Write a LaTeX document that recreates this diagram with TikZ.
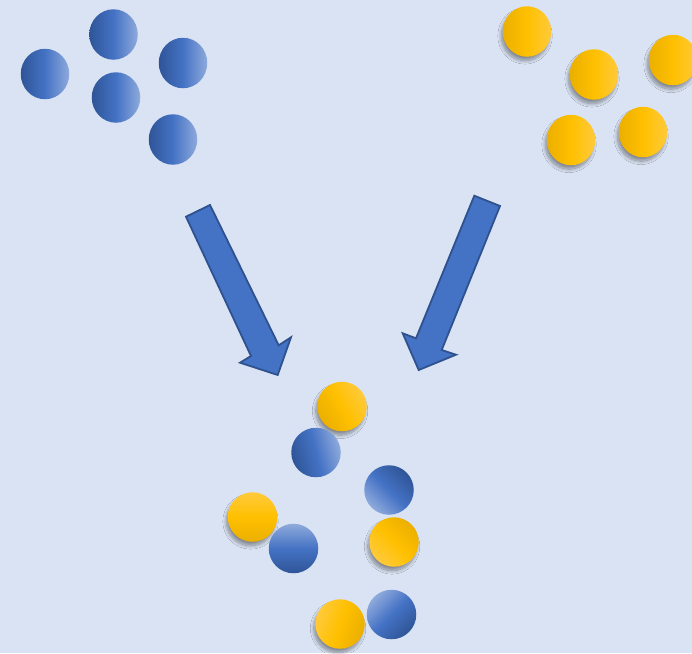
\documentclass[tikz,border=0pt]{standalone}
\usetikzlibrary{shapes.geometric,shadows.blur}
\definecolor{bg}{HTML}{DAE3F3}
\definecolor{bdark}{HTML}{2F5597}
\definecolor{bmid}{HTML}{4472C4}
\definecolor{blight}{HTML}{8FAADC}
\definecolor{ydark}{HTML}{EBAF00}
\definecolor{ymid}{HTML}{FFC000}
\definecolor{ylight}{HTML}{FFCA3C}
\definecolor{aline}{HTML}{2F528F}
\tikzset{
  ball/.style={circle, inner sep=0pt, minimum size=49.5pt, draw=none},
  topball/.style={ellipse, inner sep=0pt, minimum width=48.5pt, minimum height=50.5pt, draw=none},
  bluefill/.style={top color=blight, bottom color=bdark, middle color=bmid, shading angle=#1},
  yellowfill/.style={top color=ylight, bottom color=ydark, middle color=ymid, shading angle=#1,
     blur shadow={shadow xshift=-2pt, shadow yshift=-4.5pt, shadow opacity=40, shadow blur radius=3.5pt, shadow blur steps=12, shadow scale=0.98}},
  blockarrow/.style={fill=bmid, draw=aline, line width=1.8pt, line join=miter}
}
\begin{document}
\begin{tikzpicture}[x=1pt,y=-1pt]
\fill[bg] (0,0) rectangle (692,653);
\useasboundingbox (0,0) rectangle (692,653);
% top-left blue balls
\node[topball, bluefill=-90] (b1) at (45,74) {};
\node[topball, bluefill=-90] (b2) at (113.5,34.5) {};
\node[topball, bluefill=-90] (b3) at (183,63) {};
\node[topball, bluefill=-90] (b4) at (116,97.5) {};
\node[topball, bluefill=-90] (b5) at (173,139.5) {};
% top-right yellow balls
\node[topball, yellowfill=-90] (y1) at (527,31.5) {};
\node[topball, yellowfill=-90] (y2) at (594,74.5) {};
\node[topball, yellowfill=-90] (y3) at (673,60) {};
\node[topball, yellowfill=-90] (y4) at (571,140) {};
\node[topball, yellowfill=-90] (y5) at (643,132) {};
% arrows
\draw[blockarrow] (186,216.7) -- (210,205) -- (278.7,345.3) -- (291,337.3) -- (277.7,375) -- (240,362.7) -- (251,356) -- cycle;
\draw[blockarrow] (474.3,195.7) -- (500,206) -- (441.7,350) -- (456,354.7) -- (418.7,370) -- (402.7,333.3) -- (416,338.3) -- cycle;
% mixed balls
\node[ball, yellowfill=-60] (m1) at (342,406.5) {};
\node[ball, bluefill=-75] (m2) at (316,452.5) {};
\node[ball, bluefill=135] (m3) at (389,490) {};
\node[ball, yellowfill=0] (m4) at (252.5,517) {};
\node[ball, bluefill=0] (m5) at (293.5,548.5) {};
\node[ball, yellowfill=135] (m6) at (394,542) {};
\node[ball, yellowfill=70] (m7) at (340,624) {};
\node[ball, bluefill=45] (m8) at (391.5,614.5) {};
\end{tikzpicture}
\end{document}
